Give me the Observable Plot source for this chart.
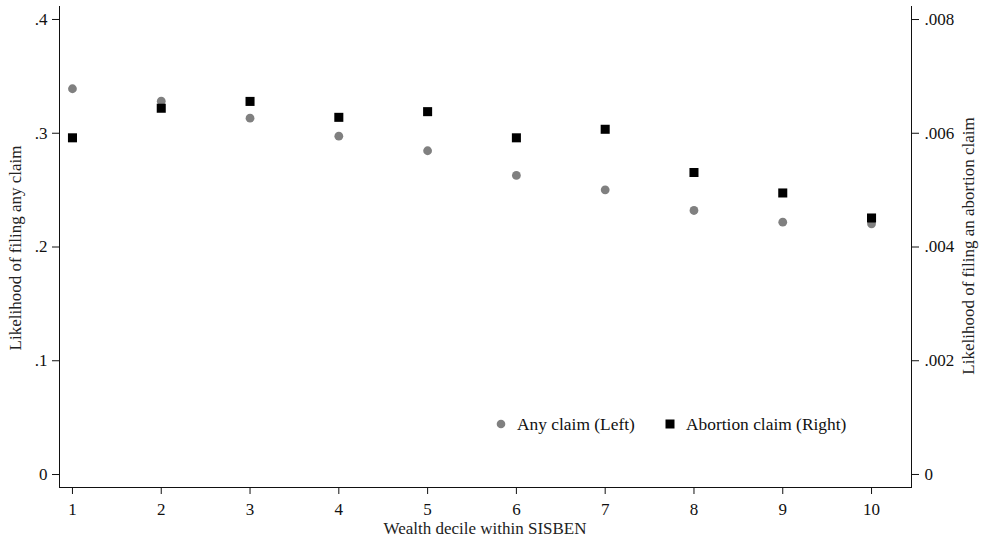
<!DOCTYPE html>
<html><head><meta charset="utf-8">
<script src="https://cdn.jsdelivr.net/npm/d3@7"></script>
<script src="https://cdn.jsdelivr.net/npm/@observablehq/plot@0.6"></script>
<style>
body{margin:0;background:#fff}
#wrap{position:relative;width:981px;height:540px;font-family:"Liberation Serif",serif}
#wrap svg.plot{position:absolute;left:0;top:0}
.leg{position:absolute;font-size:17.4px;color:#111;white-space:nowrap;line-height:20px}
.leg svg{position:absolute}
.lab{position:absolute;font-size:17px;line-height:17px;color:#222;white-space:nowrap;transform-origin:center center}
</style>
</head><body><div id="wrap"></div>
<script>
const deciles = [1, 2, 3, 4, 5, 6, 7, 8, 9, 10];
const anyClaim = [0.3391, 0.3282, 0.3132, 0.2974, 0.2846, 0.2629, 0.2503, 0.2321, 0.2218, 0.2204];
const abortionClaim = [0.00592, 0.00644, 0.00656, 0.00628, 0.00638, 0.00592, 0.00607, 0.00531, 0.00495, 0.00451];
const leftTicks = [0, 0.1, 0.2, 0.3, 0.4];
const rightTicks = [0, 0.002, 0.004, 0.006, 0.008];
const xTicks = deciles;
const seriesNames = ["Any claim (Left)", "Abortion claim (Right)"];
const xTitle = "Wealth decile within SISBEN";
const leftTitle = "Likelihood of filing any claim";
const rightTitle = "Likelihood of filing an abortion claim";

const fmt = d => d === 0 ? "0" : String(d).replace(/^0/, "");
const leftData = deciles.map((d, i) => ({decile: d, value: anyClaim[i]}));
const rightData = deciles.map((d, i) => ({decile: d, value: abortionClaim[i]}));

const common = {
  width: 981, height: 540,
  marginLeft: 59, marginRight: 70, marginTop: 6, marginBottom: 53,
  style: {fontFamily: "Liberation Serif, serif", fontSize: "17px", color: "#111", background: "transparent", overflow: "visible"}
};
const xDomain = [0.854, 10.45];

const p1 = Plot.plot({
  ...common,
  x: {domain: xDomain, line: true, ticks: xTicks, tickSize: 7, tickPadding: 8, tickFormat: d => String(d), label: null},
  y: {domain: [-0.0114, 0.4114], line: true, ticks: leftTicks, tickSize: 7, tickPadding: 5, tickFormat: fmt, label: null},
  marks: [
    Plot.dot(leftData, {x: "decile", y: "value", r: 4.4, fill: "#808080", stroke: null})
  ]
});
p1.classList.add("plot");

const p2 = Plot.plot({
  ...common,
  x: {domain: xDomain, axis: null},
  y: {domain: [-0.000229, 0.008229], axis: "right", line: true, ticks: rightTicks, tickSize: 7, tickPadding: 6, tickFormat: fmt, label: null},
  marks: [
    Plot.dot(rightData, {x: "decile", y: "value", r: 5.1, symbol: "square", fill: "#000", stroke: null})
  ]
});
p2.classList.add("plot");

const wrap = document.getElementById("wrap");
wrap.appendChild(p1);
wrap.appendChild(p2);

// axis titles
function title(text, cx, cy, rot) {
  const d = document.createElement("div");
  d.className = "lab";
  d.textContent = text;
  d.style.left = cx + "px";
  d.style.top = cy + "px";
  d.style.transform = `translate(-50%,-50%)` + (rot ? ` rotate(${rot}deg)` : "");
  wrap.appendChild(d);
}
title(xTitle, 485, 528, 0);
title(leftTitle, 15, 248, -90);
title(rightTitle, 968, 246, -90);

// legend
function legItem(x, y, shape, text) {
  const div = document.createElement("div");
  div.className = "leg";
  div.style.left = x + "px";
  div.style.top = y + "px";
  const sym = shape === "circle"
    ? `<svg width="10" height="10" style="left:-21px;top:5px"><circle cx="5" cy="5" r="4.3" fill="#808080"/></svg>`
    : `<svg width="10" height="10" style="left:-21px;top:5px"><rect x="0.5" y="0.5" width="9" height="9" fill="#000"/></svg>`;
  div.innerHTML = sym + text;
  wrap.appendChild(div);
}
legItem(517, 414, "circle", seriesNames[0]);
legItem(686, 414, "square", seriesNames[1]);
</script>
</body></html>
